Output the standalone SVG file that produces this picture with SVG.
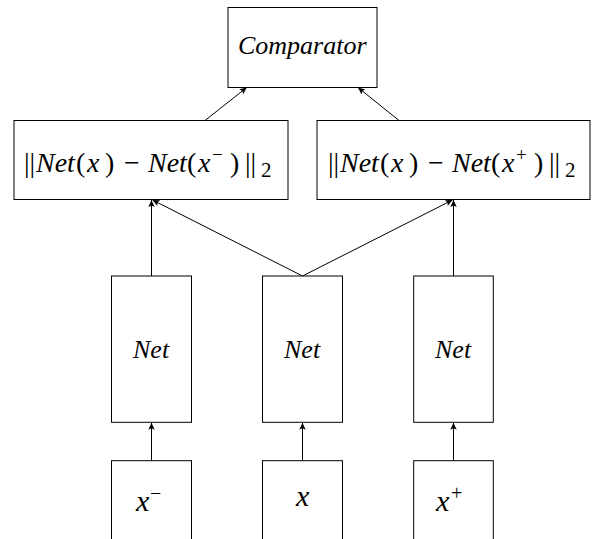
<svg xmlns="http://www.w3.org/2000/svg" width="597" height="539" viewBox="0 0 597 539">
<defs>
<marker id="ah" markerUnits="userSpaceOnUse" markerWidth="10" markerHeight="10" refX="7" refY="5" orient="auto">
<path d="M0,1.8 L7,5 L0,8.2 L1.5,5 Z" fill="#000"/>
</marker>
</defs>
<rect width="597" height="539" fill="#fff"/>
<g id="connectors" fill="none" stroke="#000" stroke-width="1" marker-end="url(#ah)">
<line x1="151.5" y1="460.7" x2="151.5" y2="422.8"/>
<line x1="302.5" y1="460.7" x2="302.5" y2="422.8"/>
<line x1="453.5" y1="460.7" x2="453.5" y2="422.8"/>
<line x1="151.5" y1="276" x2="151.5" y2="200"/>
<line x1="302.5" y1="276" x2="152.5" y2="200"/>
<line x1="302.5" y1="276" x2="452.5" y2="200"/>
<line x1="453.5" y1="276" x2="453.5" y2="200"/>
<line x1="205" y1="120.5" x2="246.7" y2="87.5"/>
<line x1="399" y1="120.5" x2="358" y2="87.5"/>
</g>
<g id="comparator">
<rect x="228" y="7.5" width="149" height="80" fill="#fff" stroke="#000"/>
<text x="238" y="53.5" font-family="Liberation Serif" font-style="italic" font-size="26" fill="#000">Comparator</text>
</g>
<g id="dist-minus">
<rect x="14" y="120.5" width="274" height="79" fill="#fff" stroke="#000"/>
<text font-family="Liberation Serif" font-size="28" fill="#000"><tspan x="24" y="172">||</tspan><tspan x="36" y="172" font-style="italic">Net</tspan><tspan x="76" y="172">(</tspan><tspan x="87" y="172" font-style="italic">x</tspan><tspan x="105" y="172">)</tspan><tspan x="124" y="172">−</tspan><tspan x="148" y="172" font-style="italic">Net</tspan><tspan x="187" y="172">(</tspan><tspan x="198" y="172" font-style="italic">x</tspan><tspan x="212" y="161" font-size="19">−</tspan><tspan x="230" y="172">)</tspan><tspan x="245" y="172">||</tspan><tspan x="261" y="177" font-size="21">2</tspan></text>
</g>
<g id="dist-plus">
<rect x="317" y="120.5" width="273" height="79" fill="#fff" stroke="#000"/>
<text font-family="Liberation Serif" font-size="28" fill="#000"><tspan x="328" y="172">||</tspan><tspan x="340" y="172" font-style="italic">Net</tspan><tspan x="380" y="172">(</tspan><tspan x="391" y="172" font-style="italic">x</tspan><tspan x="409" y="172">)</tspan><tspan x="428" y="172">−</tspan><tspan x="452" y="172" font-style="italic">Net</tspan><tspan x="491" y="172">(</tspan><tspan x="502" y="172" font-style="italic">x</tspan><tspan x="516" y="161" font-size="19">+</tspan><tspan x="534" y="172">)</tspan><tspan x="549" y="172">||</tspan><tspan x="565" y="177" font-size="21">2</tspan></text>
</g>
<g id="net-minus">
<rect x="111.5" y="276" width="80" height="146.3" fill="#fff" stroke="#000"/>
<text x="133" y="358" font-family="Liberation Serif" font-style="italic" font-size="26" fill="#000">Net</text>
</g>
<g id="net-anchor">
<rect x="262.5" y="276" width="80" height="146.3" fill="#fff" stroke="#000"/>
<text x="284" y="358" font-family="Liberation Serif" font-style="italic" font-size="26" fill="#000">Net</text>
</g>
<g id="net-plus">
<rect x="413.7" y="276" width="79.6" height="146.3" fill="#fff" stroke="#000"/>
<text x="435" y="358" font-family="Liberation Serif" font-style="italic" font-size="26" fill="#000">Net</text>
</g>
<g id="input-minus">
<rect x="111.5" y="460.7" width="80" height="82" fill="#fff" stroke="#000"/>
<text font-family="Liberation Serif" font-size="30" fill="#000"><tspan x="136" y="510.7" font-style="italic">x</tspan><tspan x="150" y="499.5" font-size="20">−</tspan></text>
</g>
<g id="input-anchor">
<rect x="262.5" y="460.7" width="80" height="82" fill="#fff" stroke="#000"/>
<text x="296" y="505.7" font-family="Liberation Serif" font-style="italic" font-size="30" fill="#000">x</text>
</g>
<g id="input-plus">
<rect x="413.7" y="460.7" width="79.6" height="82" fill="#fff" stroke="#000"/>
<text font-family="Liberation Serif" font-size="30" fill="#000"><tspan x="436" y="510.7" font-style="italic">x</tspan><tspan x="451" y="499.5" font-size="20">+</tspan></text>
</g>
</svg>
